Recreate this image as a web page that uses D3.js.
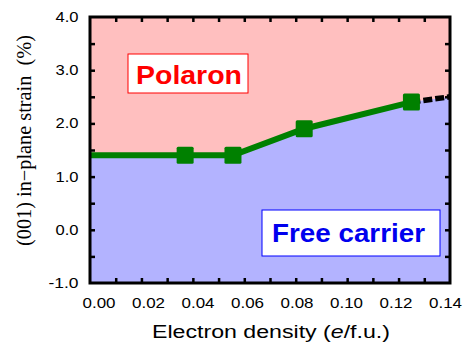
<!DOCTYPE html>
<html>
<head>
<meta charset="utf-8">
<script src="https://cdnjs.cloudflare.com/ajax/libs/d3/7.8.5/d3.min.js"></script>
<style>
  body { margin: 0; background: #fff; }
</style>
</head>
<body>
<svg width="464" height="342"></svg>
<script>
var svg = d3.select("svg");

// data
var density = [0, 0.037, 0.0556, 0.0833, 0.125];
var strain = [1.4, 1.4, 1.4, 1.9, 2.4];
var markerIdx = [1, 2, 3, 4];
var extDensity = [0.125, 0.14];
var extStrain = [2.4, 2.5];
var xTickLabels = ["0.00", "0.02", "0.04", "0.06", "0.08", "0.10", "0.12", "0.14"];
var yTickLabels = ["-1.0", "0.0", "1.0", "2.0", "3.0", "4.0"];

var pLeft = 90, pRight = 450, pTop = 17, pBottom = 283;
var sans = "Liberation Sans, Arial, sans-serif";

var x = d3.scaleLinear().domain([0, 0.14]).range([pLeft, pRight]);
var y = d3.scaleLinear().domain([-1, 4]).range([pBottom, pTop]);
// x tick labels in the original sit slightly off the ticks
var xLab = d3.scaleLinear().domain([0, 0.14]).range([99, 445.5]);

var boundary = density.map(function(d, i) { return [d, strain[i]]; })
    .concat([[extDensity[1], extStrain[1]]]);

// polaron region (above) and free carrier region (below)
svg.append("path")
    .datum(boundary)
    .attr("fill", "#ffbfbf")
    .attr("d", d3.area().x(function(d) { return x(d[0]); })
        .y0(y(4)).y1(function(d) { return y(d[1]); }));
svg.append("path")
    .datum(boundary)
    .attr("fill", "#b3b3ff")
    .attr("d", d3.area().x(function(d) { return x(d[0]); })
        .y0(y(-1)).y1(function(d) { return y(d[1]); }));

var line = d3.line().x(function(d) { return x(d[0]); }).y(function(d) { return y(d[1]); });

// dashed extension
svg.append("path")
    .datum(extDensity.map(function(d, i) { return [d, extStrain[i]]; }))
    .attr("fill", "none")
    .attr("stroke", "#000")
    .attr("stroke-width", 5.5)
    .attr("stroke-dasharray", "9,3")
    .attr("d", line);

// green line
svg.append("path")
    .datum(density.map(function(d, i) { return [d, strain[i]]; }))
    .attr("fill", "none")
    .attr("stroke", "#008000")
    .attr("stroke-width", 6)
    .attr("d", line);

svg.append("g").selectAll("rect")
    .data(markerIdx)
    .enter().append("rect")
    .attr("x", function(i) { return x(density[i]) - 8.5; })
    .attr("y", function(i) { return y(strain[i]) - 8.5; })
    .attr("width", 17)
    .attr("height", 17)
    .attr("rx", 1.5)
    .attr("fill", "#008000");

// axes: ticks inward on all four sides
var xTicks = d3.range(1, 14).map(function(i) { return i * 0.01; });
var yTicks = d3.range(-0.5, 4, 0.5);

function drawAxis(g, axis) {
  g.call(axis);
  g.select(".domain").remove();
  g.selectAll("line").attr("stroke", "#000").attr("stroke-width", 2.5);
  g.selectAll("text").remove();
}

svg.append("g").attr("transform", "translate(0," + pBottom + ")")
    .call(drawAxis, d3.axisTop(x).tickValues(xTicks).tickSize(5));
svg.append("g").attr("transform", "translate(0," + pTop + ")")
    .call(drawAxis, d3.axisBottom(x).tickValues(xTicks).tickSize(5));
svg.append("g").attr("transform", "translate(" + pLeft + ",0)")
    .call(drawAxis, d3.axisRight(y).tickValues(yTicks).tickSize(5));
svg.append("g").attr("transform", "translate(" + pRight + ",0)")
    .call(drawAxis, d3.axisLeft(y).tickValues(yTicks).tickSize(5));

svg.append("rect")
    .attr("x", pLeft).attr("y", pTop)
    .attr("width", pRight - pLeft).attr("height", pBottom - pTop)
    .attr("fill", "none")
    .attr("stroke", "#000")
    .attr("stroke-width", 3);

// tick labels (the original is a bit stretched sideways)
svg.append("g").selectAll("text")
    .data(xTickLabels)
    .enter().append("text")
    .attr("x", function(d) { return xLab(+d) - 16.5; })
    .attr("y", 307.5)
    .attr("textLength", 33)
    .attr("lengthAdjust", "spacingAndGlyphs")
    .style("font-family", sans)
    .style("font-size", "15px")
    .text(function(d) { return d; });

svg.append("g").selectAll("text")
    .data(yTickLabels)
    .enter().append("text")
    .attr("x", function(d) { return d.length > 3 ? 48.5 : 55.5; })
    .attr("y", function(d) { return y(+d) + 5; })
    .attr("textLength", function(d) { return d.length > 3 ? 30 : 23; })
    .attr("lengthAdjust", "spacingAndGlyphs")
    .style("font-family", sans)
    .style("font-size", "14.5px")
    .text(function(d) { return d; });

// axis titles
svg.append("text")
    .attr("x", 152)
    .attr("y", 338)
    .attr("textLength", 238)
    .attr("lengthAdjust", "spacingAndGlyphs")
    .style("font-family", sans)
    .style("font-size", "18px")
    .html("Electron density (<tspan font-style='italic'>e</tspan>/f.u.)");

svg.append("text")
    .attr("transform", "translate(31,246) rotate(-90)")
    .attr("textLength", 211)
    .attr("lengthAdjust", "spacingAndGlyphs")
    .style("font-family", "Liberation Serif, Times New Roman, serif")
    .style("font-size", "20px")
    .text("(001) in\u2212plane strain\u00a0 (%)");

// region labels
svg.append("rect")
    .attr("x", 128).attr("y", 54).attr("width", 120).attr("height", 39)
    .attr("fill", "#fff").attr("stroke", "#ff0000").attr("stroke-width", 1);
svg.append("text")
    .attr("x", 136).attr("y", 84)
    .attr("textLength", 106)
    .attr("lengthAdjust", "spacingAndGlyphs")
    .attr("fill", "#ff0000")
    .style("font-family", sans)
    .style("font-weight", "bold")
    .style("font-size", "25px")
    .text("Polaron");

svg.append("rect")
    .attr("x", 262).attr("y", 210).attr("width", 178).attr("height", 46)
    .attr("fill", "#fff").attr("stroke", "#0000ff").attr("stroke-width", 1);
svg.append("text")
    .attr("x", 272).attr("y", 242)
    .attr("textLength", 153)
    .attr("lengthAdjust", "spacingAndGlyphs")
    .attr("fill", "#0000ee")
    .style("font-family", sans)
    .style("font-weight", "bold")
    .style("font-size", "26px")
    .text("Free carrier");
</script>
</body>
</html>
